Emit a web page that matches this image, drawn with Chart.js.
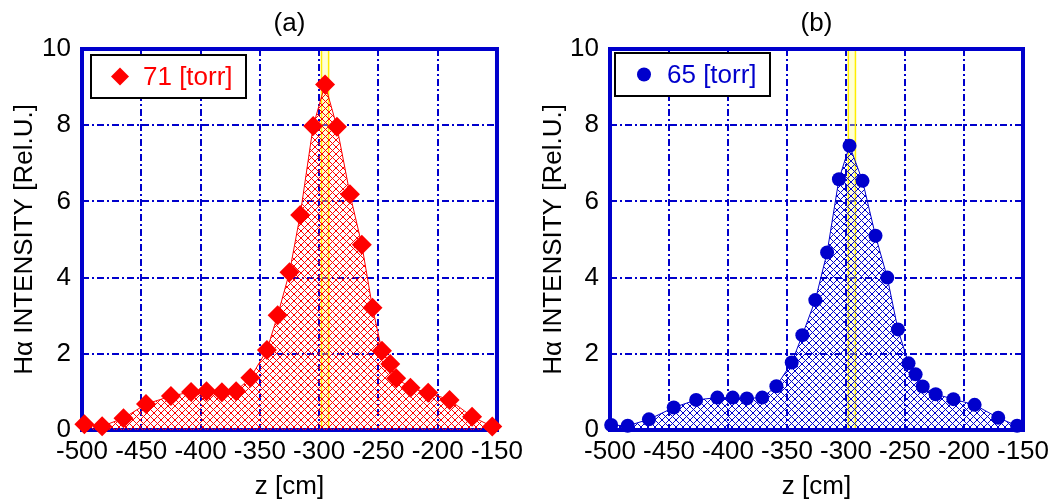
<!DOCTYPE html>
<html lang="en">
<head>
  <meta charset="UTF-8">
  <title>H-alpha intensity profiles</title>
  <script src="https://cdn.jsdelivr.net/npm/chart.js"></script>
  <style>
    body { margin: 0; background: #fff; }
    .panel { position: absolute; top: 0; width: 529px; height: 500px; }
    #panelA { left: 0; }
    #panelB { left: 529px; }
  </style>
</head>
<body>
  <div class="panel" id="panelA"><canvas id="chartA" width="529" height="500"></canvas></div>
  <div class="panel" id="panelB"><canvas id="chartB" width="529" height="500"></canvas></div>

  <script>
    // data
    const zA = [-498, -483, -465, -446, -425, -408, -395, -382, -370, -358, -344, -335, -325, -316,
                -305, -295, -285, -274, -264, -255, -247, -240, -235, -223, -208, -190, -171, -154];
    const intensityA = [0.15, 0.1, 0.31, 0.68, 0.89, 1.0, 1.02, 0.99, 1.02, 1.37, 2.1, 3.01, 4.14, 5.64,
                        7.98, 9.07, 7.96, 6.19, 4.86, 3.21, 2.08, 1.73, 1.36, 1.11, 0.98, 0.79, 0.35, 0.09];

    const zB = [-499, -485, -467, -446, -427, -409, -396, -384, -371, -359, -346, -337, -326, -316,
                -306, -297, -286, -275, -265, -256, -247, -241, -235, -224, -209, -191, -171, -155];
    const intensityB = [0.13, 0.11, 0.28, 0.59, 0.79, 0.85, 0.85, 0.83, 0.85, 1.15, 1.77, 2.49, 3.41, 4.66,
                        6.58, 7.46, 6.54, 5.1, 4.0, 2.64, 1.75, 1.46, 1.14, 0.94, 0.81, 0.66, 0.32, 0.11];

    const yellowBand = [-298, -292];
    const xTicks = [-500, -450, -400, -350, -300, -250, -200, -150];
    const yTicks = [0, 2, 4, 6, 8, 10];

    const FONT = 'Arial, "Liberation Sans", sans-serif';
    const BLUE = '#0000cc';
    Chart.defaults.color = '#000';
    Chart.defaults.font.family = FONT;

    function makeHatch(color) {
      const c = document.createElement('canvas');
      const s = 7;
      c.width = s; c.height = s;
      const g = c.getContext('2d');
      g.strokeStyle = color;
      g.lineWidth = 1;
      g.beginPath();
      for (const o of [-s, 0, s]) {
        g.moveTo(o, 0); g.lineTo(o + s, s);
        g.moveTo(o + s, 0); g.lineTo(o, s);
      }
      g.stroke();
      return g.createPattern(c, 'repeat');
    }

    // yellow band and the blue frame, under the data
    const framePlugin = {
      id: 'frame',
      beforeDatasetsDraw(chart) {
        const { ctx, chartArea: a, scales: { x } } = chart;
        const x1 = x.getPixelForValue(yellowBand[0]);
        const x2 = x.getPixelForValue(yellowBand[1]);
        ctx.save();
        ctx.fillStyle = 'rgba(255, 255, 140, 0.35)';
        ctx.fillRect(x1, a.top, x2 - x1, a.bottom - a.top);
        ctx.strokeStyle = '#ffee00';
        ctx.lineWidth = 1.5;
        ctx.beginPath();
        ctx.moveTo(x1, a.top); ctx.lineTo(x1, a.bottom);
        ctx.moveTo(x2, a.top); ctx.lineTo(x2, a.bottom);
        ctx.stroke();
        ctx.strokeStyle = BLUE;
        ctx.lineWidth = 4;
        ctx.strokeRect(a.left, a.top, a.right - a.left, a.bottom - a.top);
        ctx.restore();
      },
      afterDraw(chart) {
        const o = chart.options.plugins.frame;
        const { ctx, chartArea: a } = chart;
        const bx = a.left + o.dx, by = a.top + o.dy, bw = 155, bh = 43;
        ctx.save();
        ctx.fillStyle = '#fff';
        ctx.fillRect(bx, by, bw, bh);
        ctx.strokeStyle = '#000';
        ctx.lineWidth = 2;
        ctx.strokeRect(bx, by, bw, bh);
        const mx = bx + 29, my = by + bh / 2;
        ctx.fillStyle = o.color;
        ctx.beginPath();
        if (o.marker === 'rectRot') {
          ctx.moveTo(mx, my - 9); ctx.lineTo(mx + 9, my);
          ctx.lineTo(mx, my + 9); ctx.lineTo(mx - 9, my);
          ctx.closePath();
        } else {
          ctx.arc(mx, my, 7, 0, Math.PI * 2);
        }
        ctx.fill();
        ctx.font = '26px ' + FONT;
        ctx.textBaseline = 'middle';
        ctx.textAlign = 'left';
        ctx.fillText(o.label, bx + 52, my + 1);
        ctx.restore();
      }
    };

    function makeChart(id, title, zs, vals, color, marker, radius, label, yWidth, padRight, dx, dy) {
      return new Chart(document.getElementById(id), {
        type: 'line',
        data: {
          datasets: [{
            label: label,
            data: zs.map((z, i) => ({ x: z, y: vals[i] })),
            borderColor: color,
            borderWidth: 1,
            backgroundColor: makeHatch(color),
            fill: 'origin',
            tension: 0,
            pointStyle: marker,
            pointRadius: radius,
            pointBackgroundColor: color,
            pointBorderColor: color,
            pointBorderWidth: 0,
            clip: false
          }]
        },
        options: {
          responsive: false,
          animation: false,
          layout: { padding: { left: 0, right: padRight, top: 0, bottom: 0 } },
          plugins: {
            legend: { display: false },
            tooltip: { enabled: false },
            frame: { label: label, color: color, marker: marker, dx: dx, dy: dy }
          },
          scales: {
            x: {
              type: 'linear',
              min: -500, max: -150,
              afterBuildTicks: s => { s.ticks = xTicks.map(v => ({ value: v })); },
              afterFit: s => { s.height = 70; },
              ticks: { autoSkip: false, maxRotation: 0, padding: 6, font: { size: 26 }, color: '#000' },
              grid: { color: BLUE, lineWidth: 2, drawTicks: false },
              border: { display: false, dash: [7, 3, 2, 3] },
              title: { display: true, text: 'z [cm]', font: { size: 26, lineHeight: 1 }, padding: 0, color: '#000' }
            },
            x2: {
              type: 'linear',
              position: 'top',
              min: -500, max: -150,
              afterFit: s => { s.height = 49; },
              ticks: { display: false },
              grid: { display: false, drawTicks: false },
              border: { display: false },
              title: { display: true, text: title, font: { size: 26, lineHeight: 1 }, padding: { top: 11, bottom: 0 }, color: '#000' }
            },
            y: {
              min: 0, max: 10,
              afterBuildTicks: s => { s.ticks = yTicks.map(v => ({ value: v })); },
              afterFit: s => { s.width = yWidth; },
              ticks: { padding: 11, font: { size: 26 }, color: '#000' },
              grid: { color: BLUE, lineWidth: 2, drawTicks: false },
              border: { display: false, dash: [7, 3, 2, 3] },
              title: { display: true, text: 'H\u03b1 INTENSITY [Rel.U.]', font: { size: 26 }, padding: { top: 9, bottom: 0 }, color: '#000' }
            }
          }
        },
        plugins: [framePlugin]
      });
    }

    makeChart('chartA', '(a)', zA, intensityA, '#ff0000', 'rectRot', 10, '71 [torr]', 82, 32, 9, 6);
    makeChart('chartB', '(b)', zB, intensityB, BLUE, 'circle', 7, '65 [torr]', 81, 35, 5, 4);
  </script>
</body>
</html>
